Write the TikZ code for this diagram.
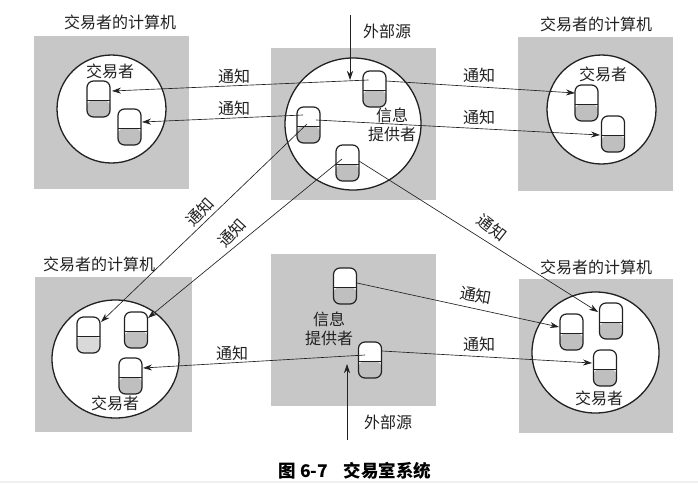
\documentclass[tikz,border=0pt]{standalone}
\usepackage{fontspec}
\usetikzlibrary{arrows.meta,calc,shapes.geometric}
\setmainfont{Noto Sans CJK SC}
\definecolor{panelgray}{gray}{0.78}
\definecolor{capgray}{gray}{0.75}
\definecolor{linedark}{gray}{0.13}
\tikzset{
  x=1pt,y=-1pt,
  disc/.style={fill=white,draw=linedark,line width=1.3pt,ellipse,inner sep=0pt},
  capsule/.style={draw=linedark,line width=1.2pt,rounded corners=6.5pt,minimum width=23pt,minimum height=36pt,inner sep=0pt,outer sep=0pt,fill=white,
    path picture={\fill[capgray] ([yshift=-1pt]path picture bounding box.west) rectangle (path picture bounding box.south east);
      \draw[linedark,line width=0.7pt] ([yshift=-1pt]path picture bounding box.west) -- ([yshift=-1pt]path picture bounding box.east);}},
  paler/.style={path picture={\fill[capgray!60] ([yshift=-1pt]path picture bounding box.west) rectangle (path picture bounding box.south east);
      \draw[linedark,line width=0.7pt] ([yshift=-1pt]path picture bounding box.west) -- ([yshift=-1pt]path picture bounding box.east);}},
  conn/.style={draw=linedark,line width=0.65pt,-{Stealth[length=9pt,width=6pt]}},
  lbl/.style={font=\fontsize{16pt}{18pt}\selectfont,text=linedark,inner sep=0pt},
  captext/.style={font=\fontsize{17.5pt}{20pt}\selectfont\bfseries,text=black,inner sep=0pt},
}
\begin{document}
\begin{tikzpicture}
\useasboundingbox (0,0) rectangle (698,483);
\fill[white] (0,0) rectangle (698,483);
\fill[gray!12] (0,481) rectangle (698,483);
% panels
\fill[panelgray] (34,36) rectangle (189,189);
\fill[panelgray] (271,48) rectangle (436,200);
\fill[panelgray] (518,37) rectangle (673,191);
\fill[panelgray] (35,277) rectangle (192,432);
\fill[panelgray] (271,254) rectangle (436,406);
\fill[panelgray] (519,279) rectangle (673,433);
% discs
\node[disc,minimum width=109pt,minimum height=108pt] (dtl) at (111.5,109) {};
\node[disc,minimum width=136pt,minimum height=132pt] (dtc) at (353,124) {};
\node[disc,minimum width=109pt,minimum height=109pt] (dtr) at (601.5,109.5) {};
\node[disc,minimum width=127pt,minimum height=118pt] (dbl) at (115.5,359) {};
\node[disc,minimum width=127pt,minimum height=121pt] (dbr) at (595.5,352.5) {};
% capsules
\node[capsule] (tl1) at (98.5,99) {};
\node[capsule] (tl2) at (129.5,127) {};
\node[capsule] (tc1) at (374.5,89) {};
\node[capsule] (tc2) at (308.5,125) {};
\node[capsule] (tc3) at (347.5,163) {};
\node[capsule] (tr1) at (586.5,103) {};
\node[capsule] (tr2) at (613,134) {};
\node[capsule,paler] (bl1) at (88.5,335) {};
\node[capsule] (bl2) at (136,330) {};
\node[capsule] (bl3) at (130.5,376) {};
\node[capsule] (bc1) at (345,286) {};
\node[capsule] (bc2) at (370,360) {};
\node[capsule] (br1) at (571.5,332) {};
\node[capsule] (br2) at (611,321) {};
\node[capsule] (br3) at (605,368) {};
% free ends
\coordinate (srct) at (350,15);
\coordinate (srcb) at (347,440);
% connectors
\draw[conn] ([shift={(-6,-9)}]tc1.center) -- ([shift={(13.5,-8)}]tl1.center);
\draw[conn] ([shift={(-5.5,-10)}]tc2.center) -- ([shift={(12.5,-5)}]tl2.center);
\draw[conn] ([shift={(11.5,-8)}]tc1.center) -- ([shift={(-11.5,-10)}]tr1.center);
\draw[conn] ([shift={(7.5,-5)}]tc2.center) -- ([shift={(-13,1)}]tr2.center);
\draw[conn] (srct) -- ([shift={(-24.5,-9)}]tc1.center);
\draw[conn] ([shift={(-1.5,-1)}]tc2.center) -- ([shift={(12.5,-13)}]bl1.center);
\draw[conn] ([shift={(-5.5,-4)}]tc3.center) -- ([shift={(12,-12)}]bl2.center);
\draw[conn] ([shift={(11.5,-2)}]tc3.center) -- ([shift={(-13,-9)}]br2.center);
\draw[conn] ([shift={(12,-3)}]bc1.center) -- ([shift={(-12.5,-5)}]br1.center);
\draw[conn] ([shift={(12,-9)}]bc2.center) -- ([shift={(-13,-5)}]br3.center);
\draw[conn] ([shift={(-5,-5)}]bc2.center) -- ([shift={(12.5,-8)}]bl3.center);
\draw[conn] (srcb) -- ([shift={(-23,4)}]bc2.center);
% labels
\node[lbl] (t1) at (120,22) {交易者的计算机};
\node[lbl] (t2) at (596,24) {交易者的计算机};
\node[lbl] (t3) at (99,264) {交易者的计算机};
\node[lbl] (t4) at (596,267) {交易者的计算机};
\node[lbl] (u1) at (110,71) {交易者};
\node[lbl] (u2) at (603,74) {交易者};
\node[lbl] (u3) at (115,403) {交易者};
\node[lbl] (u4) at (599,398) {交易者};
\node[lbl] (s1) at (387,31) {外部源};
\node[lbl] (s2) at (388,422) {外部源};
\node[lbl] (i1) at (392,115) {信息};
\node[lbl] (i2) at (392,134) {提供者};
\node[lbl] (i3) at (329,319) {信息};
\node[lbl] (i4) at (329,338) {提供者};
\node[lbl] (n1) at (234,76) {通知};
\node[lbl] (n2) at (234,108) {通知};
\node[lbl] (n3) at (479,75) {通知};
\node[lbl] (n4) at (479,117) {通知};
\node[lbl,rotate=47] (n5) at (200,212) {通知};
\node[lbl,rotate=47] (n6) at (232,233) {通知};
\node[lbl,rotate=-38] (n7) at (492,228) {通知};
\node[lbl,rotate=-10] (n8) at (476,295) {通知};
\node[lbl] (n9) at (479,344) {通知};
\node[lbl] (n10) at (232,353) {通知};
\node[captext] (c1) at (355,471) {图 6-7\hspace{0.9em}交易室系统};
\end{tikzpicture}
\end{document}
